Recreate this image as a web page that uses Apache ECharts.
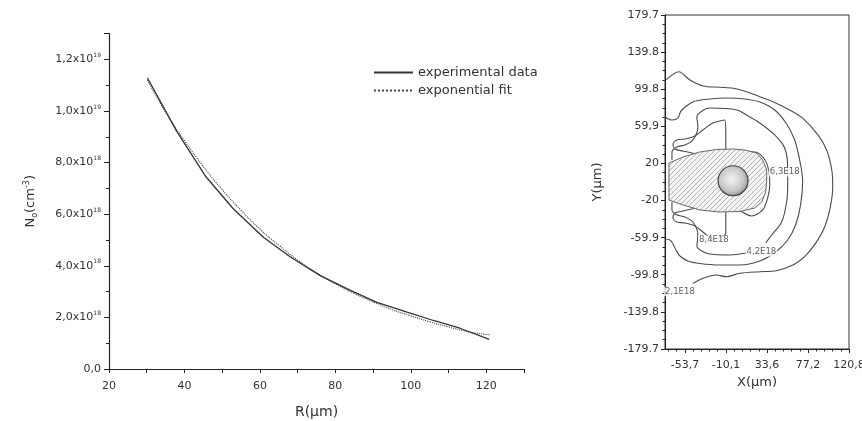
<!DOCTYPE html>
<html><head><meta charset="utf-8">
<script src="https://cdn.jsdelivr.net/npm/echarts@6/dist/echarts.min.js"></script>
<style>html,body{margin:0;padding:0;background:#fff}#c{width:862px;height:421px}</style>
</head><body><div id="c"></div>
<script>
// ---------- Left panel: density vs radius (N in units of 1e18 cm^-3) ----------
const radiusExp = [30.2, 38, 45.7, 53, 61, 68, 76, 84, 91, 99, 106, 113, 120.8];
const densityExp = [11.28, 9.2, 7.45, 6.2, 5.1, 4.35, 3.62, 3.05, 2.58, 2.2, 1.88, 1.58, 1.15];
const radiusFit = [30.2, 35, 40, 45, 50, 55, 60, 65, 70, 75, 80, 85, 90, 95, 100, 105, 110, 115, 121];
const densityFit = [11.2, 9.95, 8.85, 7.85, 6.95, 6.15, 5.42, 4.8, 4.22, 3.73, 3.3, 2.93, 2.6, 2.3, 2.06, 1.83, 1.63, 1.45, 1.32];
const yTickValues = [0, 2, 4, 6, 8, 10, 12];
const yTickMantissa = ['0,0', '2,0x10', '4,0x10', '6,0x10', '8,0x10', '1,0x10', '1,2x10'];
const yTickExponent = ['', '18', '18', '18', '18', '19', '19'];
const seriesNames = ['experimental data', 'exponential fit'];

// ---------- Right panel: contour map ----------
const xTickValues = [-53.7, -10.1, 33.6, 77.2, 120.8];
const xTickLabels = ['-53,7', '-10,1', '33,6', '77,2', '120,8'];
const yTickValuesR = [-179.7, -139.8, -99.8, -59.9, -20, 20, 59.9, 99.8, 139.8, 179.7];
const yTickLabelsR = ['-179.7', '-139.8', '-99.8', '-59.9', '-20', '20', '59,9', '99.8', '139.8', '179.7'];

const contourOuter = [[-74.9,109.0],[-60.1,118.7],[-48.4,109.7],[-34.3,103.3],[-16.6,101.9],[-2.4,100.8],[11.7,97.2],[25.9,91.8],[40.0,86.4],[57.7,77.5],[71.8,68.5],[88.0,50.4],[97.0,34.4],[102.5,12.9],[103.5,-5.0],[101.0,-26.5],[95.0,-48.1],[85.2,-66.0],[73.6,-80.4],[61.2,-89.3],[43.5,-95.5],[25.9,-96.5],[4.6,-98.2],[-9.5,-101.9],[-20.1,-100.1],[-34.3,-103.6],[-44.9,-109.0]];
const contourSecond = [[-74.9,70.0],[-67.5,66.7],[-61.1,68.9],[-57.9,76.4],[-45.2,86.1],[-27.2,89.3],[-9.2,90.4],[9.9,89.3],[25.9,86.1],[41.8,77.5],[54.5,62.4],[63.0,45.2],[68.3,23.7],[71.5,1.1],[69.3,-24.7],[64.0,-46.3],[55.6,-62.4],[42.8,-75.3],[25.9,-85.0],[4.6,-89.3],[-16.6,-89.3],[-37.8,-87.7],[-50.5,-85.0],[-59.0,-79.6],[-63.2,-73.2],[-66.4,-66.7],[-69.6,-62.4],[-74.9,-61.3]];
const contourThirdTop = [[-67.5,23.7],[-67.5,32.3],[-62.2,37.7],[-53.7,39.8],[-45.2,45.2],[-39.9,59.2],[-41.0,70.0],[-27.2,79.6],[1.5,77.5],[15.2,70.0],[25.9,63.5],[41.8,50.6],[52.4,36.6],[55.6,15.1],[55.6,-3.2],[54.5,-21.5],[49.2,-43.0],[38.6,-57.0],[32.2,-65.6]];
const contourThirdBottom = [[12.1,-76.4],[-6.0,-78.5],[-27.2,-77.5],[-41.0,-68.9],[-39.9,-57.0],[-45.2,-43.0],[-53.7,-37.6],[-62.2,-35.5],[-67.5,-30.1],[-67.5,-21.5]];
const contourInnerTop = [[-43.1,30.4],[-55.8,33.3],[-64.3,35.5],[-66.4,40.9],[-62.2,45.2],[-53.7,46.3],[-43.1,49.5],[-34.6,55.9],[-24.0,63.5],[-11.4,66.7],[-10.2,50.6],[-10.2,29.1]];
const contourInnerRight = [[4.6,32.6],[20.6,32.3],[30.1,25.8],[35.4,12.9],[36.5,-3.2],[34.3,-17.2],[29.0,-30.1],[17.3,-36.6],[4.6,-30.4]];
const contourInnerBottom = [[-10.2,-26.9],[-10.2,-54.9],[-24.0,-61.3],[-34.6,-53.8],[-43.1,-47.3],[-53.7,-44.1],[-62.2,-43.0],[-66.4,-38.7],[-64.3,-33.3],[-55.8,-31.2],[-43.1,-28.3]];
const hatchedRegion = [[-70.7,20.4],[-55.8,26.9],[-37.8,32.3],[-19.8,35.0],[-2.8,35.5],[9.9,34.4],[22.7,31.2],[29.0,23.7],[33.3,12.9],[33.3,1.1],[32.2,-10.8],[28.0,-21.5],[20.6,-28.0],[4.6,-31.7],[-16.6,-32.3],[-37.8,-30.1],[-55.8,-24.7],[-70.7,-19.4]];
const sphereCenter = [-2.5, 1.4];
const sphereRadius = 15.9;
const contourLabelText = ['6,3E18', '8,4E18', '4,2E18', '2,1E18'];
const contourLabelX = [52.4, -22.9, 27.6, -59.0];
const contourLabelY = [10.8, -62.4, -75.3, -118.0];

const FONT = 'DejaVu Sans';
const chart = echarts.init(document.getElementById('c'), null, {renderer: 'canvas'});

function hatchCanvas() {
  const c = document.createElement('canvas'); c.width = 5; c.height = 5;
  const g = c.getContext('2d');
  g.fillStyle = '#f4f4f4'; g.fillRect(0, 0, 5, 5);
  g.strokeStyle = '#a4a4a4'; g.lineWidth = 0.8;
  g.beginPath();
  g.moveTo(-1, 6); g.lineTo(6, -1);
  g.moveTo(-1, 1); g.lineTo(1, -1);
  g.moveTo(4, 6); g.lineTo(6, 4);
  g.stroke();
  return c;
}
const hatch = hatchCanvas();

const xMinorR = [];
for (let i = -4; i <= 20; i++) { const v = -53.7 + i * 8.725; if (v > -74.9 && v < 120.8 && i % 5 !== 0) xMinorR.push(+v.toFixed(3)); }
const yMinorR = [];
for (let i = 0; i <= 36; i++) { if (i % 4 !== 0) yMinorR.push(+(-179.7 + i * 9.983).toFixed(3)); }

const lineStyleContour = {color: '#4a4a4a', width: 1.1};
function contourSeries(arr) {
  return {type: 'line', xAxisIndex: 1, yAxisIndex: 1, data: arr, symbol: 'none', smooth: 0.3,
    lineStyle: lineStyleContour, z: 2, silent: true, animation: false};
}

const option = {
  animation: false,
  textStyle: {fontFamily: FONT},
  grid: [
    {left: 109, top: 33.6, width: 415, height: 335.4, outerBoundsMode: 'none', containLabel: false},
    {left: 665, top: 15, width: 184, height: 334, outerBoundsMode: 'none', containLabel: false, show: true, borderColor: '#333', borderWidth: 1, backgroundColor: 'transparent'}
  ],
  legend: {
    data: seriesNames, orient: 'vertical', left: 373, top: 66, padding: 0, itemWidth: 39, itemHeight: 14, itemGap: 5,
    itemStyle: {opacity: 0},
    textStyle: {fontSize: 13, color: '#333', fontFamily: FONT}
  },
  xAxis: [
    {gridIndex: 0, type: 'value', min: 20, max: 130, interval: 10,
      axisLine: {onZero: false, lineStyle: {color: '#222', width: 1.2}},
      axisTick: {inside: false, length: 4, lineStyle: {color: '#222'}},
      axisLabel: {margin: 12, fontSize: 11, color: '#333', fontFamily: FONT,
        formatter: v => (v % 20 === 0 && v <= 120) ? String(v) : ''},
      splitLine: {show: false},
      name: 'R(μm)', nameLocation: 'middle', nameGap: 36, nameTextStyle: {fontSize: 14, color: '#333', fontFamily: FONT}},
    {gridIndex: 1, type: 'value', min: -74.9, max: 120.8, position: 'bottom',
      axisLine: {onZero: false, lineStyle: {color: '#222', width: 1}},
      axisTick: {inside: false, length: 4, customValues: xTickValues, lineStyle: {color: '#222'}},
      axisLabel: {margin: 11, fontSize: 11, color: '#333', fontFamily: FONT, customValues: xTickValues,
        formatter: v => { const i = xTickValues.findIndex(t => Math.abs(t - v) < 0.01); return i >= 0 ? xTickLabels[i] : ''; }},
      splitLine: {show: false},
      name: 'X(μm)', nameLocation: 'middle', nameGap: 25, nameTextStyle: {fontSize: 13, color: '#333', fontFamily: FONT}},
    {gridIndex: 1, type: 'value', min: -74.9, max: 120.8, position: 'bottom',
      axisLine: {show: false, onZero: false},
      axisTick: {inside: false, length: 2.5, customValues: xMinorR, lineStyle: {color: '#222'}},
      axisLabel: {show: false}, splitLine: {show: false}}
  ],
  yAxis: [
    {gridIndex: 0, type: 'value', min: 0, max: 13, interval: 2,
      axisLine: {show: true, onZero: false, lineStyle: {color: '#222', width: 1.2}},
      axisTick: {show: true, inside: false, length: 5, lineStyle: {color: '#222'}},
      minorTick: {show: true, splitNumber: 2, length: 3, lineStyle: {color: '#222'}},
      axisLabel: {margin: 8, color: '#333', fontFamily: FONT,
        formatter: v => { const i = yTickValues.indexOf(v); if (i < 0) return ''; return yTickExponent[i] ? '{m|' + yTickMantissa[i] + '}{e|' + yTickExponent[i] + '}' : '{m|' + yTickMantissa[i] + '}'; },
        rich: {m: {fontSize: 11, color: '#333', fontFamily: FONT, lineHeight: 14}, e: {fontSize: 6, color: '#333', fontFamily: FONT, verticalAlign: 'top', lineHeight: 8}}},
      splitLine: {show: false},
      name: '{n|N}{s|o}{n|(cm}{p|-3}{n|)}', nameLocation: 'middle', nameGap: 70,
      nameTextStyle: {rich: {n: {fontSize: 13, color: '#333', fontFamily: FONT, lineHeight: 16}, s: {fontSize: 8, color: '#333', fontFamily: FONT, verticalAlign: 'bottom', lineHeight: 10}, p: {fontSize: 8, color: '#333', fontFamily: FONT, verticalAlign: 'top', lineHeight: 10}}}},
    {gridIndex: 1, type: 'value', min: -179.7, max: 179.7, position: 'left',
      axisLine: {show: true, onZero: false, lineStyle: {color: '#222', width: 1}},
      axisTick: {show: true, inside: false, length: 4, customValues: yTickValuesR, lineStyle: {color: '#222'}},
      axisLabel: {margin: 6, fontSize: 11, color: '#333', fontFamily: FONT, customValues: yTickValuesR,
        formatter: v => { const i = yTickValuesR.findIndex(t => Math.abs(t - v) < 0.01); return i >= 0 ? yTickLabelsR[i] : ''; }},
      splitLine: {show: false},
      name: 'Y(μm)', nameLocation: 'middle', nameGap: 61, nameTextStyle: {fontSize: 13, color: '#333', fontFamily: FONT}},
    {gridIndex: 1, type: 'value', min: -179.7, max: 179.7, position: 'left',
      axisLine: {show: false, onZero: false},
      axisTick: {show: true, inside: false, length: 2.5, customValues: yMinorR, lineStyle: {color: '#222'}},
      axisLabel: {show: false}, splitLine: {show: false}}
  ],
  series: [
    {name: seriesNames[0], type: 'line', xAxisIndex: 0, yAxisIndex: 0, symbol: 'none',
      data: radiusExp.map((r, i) => [r, densityExp[i]]),
      lineStyle: {color: '#333', width: 1.3, type: 'solid'}, itemStyle: {color: '#333'}, z: 3},
    {name: seriesNames[1], type: 'line', xAxisIndex: 0, yAxisIndex: 0, symbol: 'none', smooth: true,
      data: radiusFit.map((r, i) => [r, densityFit[i]]),
      lineStyle: {color: '#444', width: 1.1, type: 'dotted'}, itemStyle: {color: '#444'}, z: 2},
    contourSeries(contourOuter),
    contourSeries(contourSecond),
    contourSeries(contourThirdTop),
    contourSeries(contourThirdBottom),
    contourSeries(contourInnerTop),
    contourSeries(contourInnerRight),
    contourSeries(contourInnerBottom),
    {type: 'custom', xAxisIndex: 1, yAxisIndex: 1, data: [[0, 0]], z: 4, silent: true,
      renderItem: (params, api) => ({
        type: 'polygon',
        shape: {points: hatchedRegion.map(p => api.coord(p))},
        style: {fill: {image: hatch, repeat: 'repeat'}, stroke: '#666', lineWidth: 1}
      })},
    {type: 'custom', xAxisIndex: 1, yAxisIndex: 1, data: [[0, 0]], z: 5, silent: true,
      renderItem: (params, api) => {
        const c = api.coord(sphereCenter);
        const r = api.size([sphereRadius, 0])[0];
        return {type: 'circle', shape: {cx: c[0], cy: c[1], r: r},
          style: {fill: new echarts.graphic.RadialGradient(0.45, 0.45, 0.65, [{offset: 0, color: '#f4f4f4'}, {offset: 0.6, color: '#c6c6c6'}, {offset: 1, color: '#7c7c7c'}]),
            stroke: '#444', lineWidth: 1.2}};
      }},
    {type: 'scatter', xAxisIndex: 1, yAxisIndex: 1, symbolSize: 0, z: 6, silent: true,
      data: contourLabelX.map((x, i) => ({value: [x, contourLabelY[i]], name: contourLabelText[i]})),
      label: {show: true, position: 'inside', formatter: p => p.name, fontSize: 8.5, color: '#333', fontFamily: FONT,
        backgroundColor: '#fff', padding: [0, 1]}}
  ]
};
chart.setOption(option);
</script>
</body></html>
